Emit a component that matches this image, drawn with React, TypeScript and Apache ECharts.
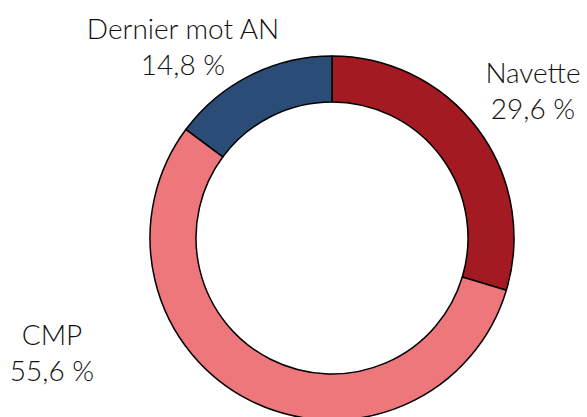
import React, { useEffect, useRef } from "react";
import * as echarts from "echarts";

const categories = ["Navette", "CMP", "Dernier mot AN"];
const values = [8, 15, 4];
const percentLabels = ["29,6 %", "55,6 %", "14,8 %"];
const colors = ["#a31a22", "#ee777c", "#2c4c78"];

export default function App() {
  const ref = useRef<HTMLDivElement>(null);
  useEffect(() => {
    const chart = echarts.init(ref.current!, null, { renderer: "svg" });
    const labelPos: Record<number, [number, number]> = {
      0: [533, 90],
      1: [52, 352],
      2: [183, 46],
    };
    chart.setOption({
      animation: false,
      series: [
        {
          type: "pie",
          center: [332, 238],
          radius: [136, 182],
          startAngle: 90,
          clockwise: true,
          data: categories.map((c, i) => ({
            name: c,
            value: values[i],
            itemStyle: { color: colors[i] },
          })),
          itemStyle: { borderColor: "#000", borderWidth: 1.5 },
          label: {
            show: true,
            formatter: (p: any) => `${p.name}\n${percentLabels[p.dataIndex]}`,
            fontFamily: "Lato",
            fontWeight: 300,
            fontSize: 28,
            lineHeight: 36,
            color: "#111",
            align: "center",
            overflow: "none",
          },
          labelLine: { show: false },
          labelLayout: (p: any) => ({
            x: labelPos[p.dataIndex][0],
            y: labelPos[p.dataIndex][1],
            align: "center",
            verticalAlign: "middle",
          }),
          emphasis: { disabled: true },
        },
      ],
    });
    return () => chart.dispose();
  }, []);
  return <div ref={ref} style={{ width: 587, height: 417, position: "absolute", left: 0, top: 0 }} />;
}
